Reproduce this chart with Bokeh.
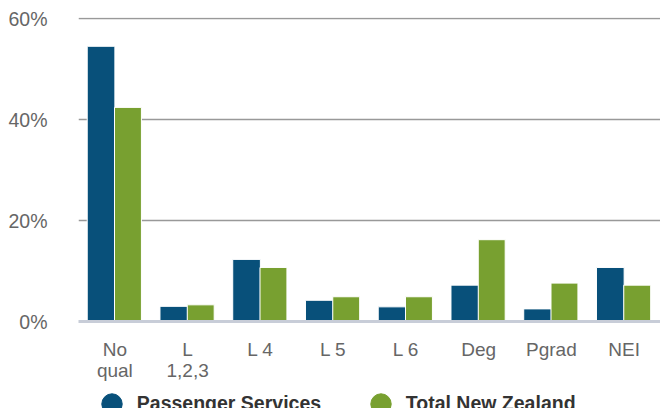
from bokeh.plotting import figure
from bokeh.models import (FactorRange, Range1d, FixedTicker, PrintfTickFormatter,
                          Legend, LegendItem, ColumnDataSource)
from bokeh.layouts import column
from bokeh.transform import dodge
from bokeh.embed import file_html
from bokeh.resources import INLINE

# ---- data ----
categories = ["No\nqual", "L\n1,2,3", "L 4", "L 5", "L 6", "Deg", "Pgrad", "NEI"]
passenger_services = [54.5, 3.0, 12.3, 4.2, 2.9, 7.2, 2.5, 10.7]
total_new_zealand = [42.4, 3.3, 10.7, 4.9, 4.9, 16.2, 7.6, 7.2]
y_ticks = [0, 20, 40, 60]
series_names = ["Passenger Services", "Total New Zealand"]

BLUE = "#08507a"
GREEN = "#78a030"
FONT = "Liberation Sans"

src = ColumnDataSource(dict(cat=categories, ps=passenger_services, nz=total_new_zealand))

p = figure(x_range=FactorRange(factors=categories, range_padding=0),
           y_range=Range1d(0, 60.2),
           width=660, height=385, output_backend="svg", toolbar_location=None,
           min_border_left=78, min_border_right=0, min_border_top=17, min_border_bottom=64)
p.outline_line_color = None
p.background_fill_color = "white"

p.vbar(x=dodge("cat", -0.19, range=p.x_range), top="ps", width=0.38, source=src,
       fill_color=BLUE, line_color="white", line_width=1)
p.vbar(x=dodge("cat", 0.18, range=p.x_range), top="nz", width=0.37, source=src,
       fill_color=GREEN, line_color="white", line_width=1)

# grid
p.xgrid.grid_line_color = None
p.ygrid.ticker = FixedTicker(ticks=y_ticks[1:])
p.ygrid.grid_line_color = "#999999"
p.ygrid.grid_line_width = 1.6

# y axis
p.yaxis.ticker = FixedTicker(ticks=y_ticks)
p.yaxis.formatter = PrintfTickFormatter(format="%d%%")
p.yaxis.axis_line_color = None
p.yaxis.major_tick_line_color = None
p.yaxis.minor_tick_line_color = None
p.yaxis.major_tick_out = 0
p.yaxis.major_label_standoff = 31
p.yaxis.major_label_text_font = FONT
p.yaxis.major_label_text_font_size = "19.5px"
p.yaxis.major_label_text_color = "#666666"

# x axis
p.xaxis.axis_line_color = "#c8cdd8"
p.xaxis.axis_line_width = 3
p.xaxis.major_tick_line_color = None
p.xaxis.major_tick_out = 0
p.xaxis.major_label_standoff = 17
p.xaxis.major_label_text_font = FONT
p.xaxis.major_label_text_font_size = "19px"
p.xaxis.major_label_text_color = "#666666"
p.xaxis.major_label_text_line_height = 1.0

# ---- legend strip (cut off at the bottom like the reference) ----
lg = figure(width=660, height=23, output_backend="svg", toolbar_location=None,
            x_axis_type=None, y_axis_type=None,
            x_range=Range1d(0, 1), y_range=Range1d(0, 1),
            min_border_left=0, min_border_right=0, min_border_top=0, min_border_bottom=0)
lg.outline_line_color = None
lg.background_fill_color = "white"
# off-screen proxy glyphs, only used for the legend swatches
s1 = lg.scatter(x=[-5], y=[-5], marker="circle", fill_color=BLUE, line_color=BLUE)
s2 = lg.scatter(x=[-5], y=[-5], marker="circle", fill_color=GREEN, line_color=GREEN)

def make_legend(label, rend, loc):
    return Legend(items=[LegendItem(label=label, renderers=[rend])], location=loc,
                  orientation="horizontal", glyph_width=51, glyph_height=51,
                  label_standoff=0, padding=0, margin=0, spacing=0,
                  border_line_color=None, background_fill_alpha=0,
                  label_text_font=FONT, label_text_font_style="bold",
                  label_text_font_size="19.5px", label_text_color="#333333")

lg.add_layout(make_legend(series_names[0], s1, (7.8, -21)))
lg.add_layout(make_legend(series_names[1], s2, (276.8, -21)))

layout = column(p, lg, spacing=0)
open("out.html", "w").write(file_html(layout, INLINE))
